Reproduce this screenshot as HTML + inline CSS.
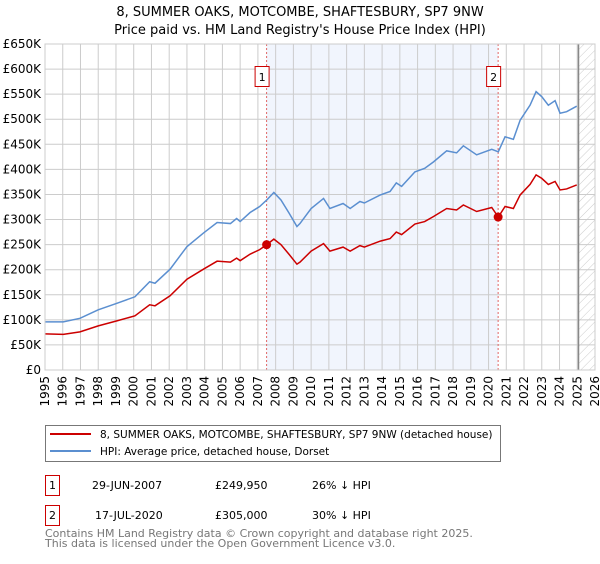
<!DOCTYPE html>
<html><head><meta charset="utf-8"><style>
body{margin:0;background:#fff;font-family:"DejaVu Sans","Liberation Sans",sans-serif;}
svg text{font-family:"DejaVu Sans","Liberation Sans",sans-serif;}
</style></head><body>
<svg id="chart" width="600" height="560" xmlns="http://www.w3.org/2000/svg">
<defs><pattern id="hatch" width="6" height="6" patternUnits="userSpaceOnUse" patternTransform="rotate(45)"><line x1="0" y1="0" x2="0" y2="6" stroke="#ccc" stroke-width="1"/></pattern></defs>
<text x="300" y="16" font-size="13" text-anchor="middle">8, SUMMER OAKS, MOTCOMBE, SHAFTESBURY, SP7 9NW</text>
<text x="300" y="34" font-size="13" text-anchor="middle">Price paid vs. HM Land Registry's House Price Index (HPI)</text>
<g id="plot"></g>
<rect x="45.5" y="425.5" width="455" height="36" fill="#fff" stroke="#777"/>
<line x1="50" y1="434" x2="91" y2="434" stroke="#cc0000" stroke-width="2"/>
<text x="100" y="438" font-size="10.5">8, SUMMER OAKS, MOTCOMBE, SHAFTESBURY, SP7 9NW (detached house)</text>
<line x1="50" y1="451" x2="91" y2="451" stroke="#5b8fd0" stroke-width="2"/>
<text x="100" y="455" font-size="10.5">HPI: Average price, detached house, Dorset</text>
<g font-size="11">
<rect x="45.5" y="475.5" width="14" height="20" fill="#fff" stroke="#cc0000"/>
<text x="52.5" y="489" text-anchor="middle">1</text>
<text x="92" y="489">29-JUN-2007</text>
<text x="215" y="489">£249,950</text>
<text x="312" y="489">26% ↓ HPI</text>
</g>
<g font-size="11">
<rect x="45.5" y="505.5" width="14" height="20" fill="#fff" stroke="#cc0000"/>
<text x="52.5" y="519" text-anchor="middle">2</text>
<text x="95" y="519">17-JUL-2020</text>
<text x="215" y="519">£305,000</text>
<text x="312" y="519">30% ↓ HPI</text>
</g>
<text x="45" y="537" font-size="11" fill="#777">Contains HM Land Registry data © Crown copyright and database right 2025.</text>
<text x="45" y="547" font-size="11" fill="#777">This data is licensed under the Open Government Licence v3.0.</text>
</svg>
<script>
const hpiYears=[1995.0,1996.03,1996.97,1998.0,1999.05,2000.07,2000.9,2001.2,2002.05,2003.0,2003.93,2004.7,2005.45,2005.8,2006.0,2006.56,2007.1,2007.5,2007.9,2008.3,2008.77,2009.2,2009.37,2010.0,2010.7,2011.06,2011.8,2012.2,2012.75,2013.0,2013.9,2014.45,2014.8,2015.1,2015.85,2016.4,2016.9,2017.64,2018.2,2018.58,2019.33,2020.18,2020.55,2020.93,2021.4,2021.78,2022.34,2022.68,2023.0,2023.37,2023.75,2024.03,2024.4,2024.97];
const hpiValues=[96,96,103,120,133,146,176,173,201,246,273,294,292,302,296,314,326,339,354,339,312,286,292,322,342,322,332,322,336,333,349,356,373,366,395,402,415,437,433,447,429,440,435,465,460,498,528,555,545,528,537,512,515,526];
const priceValues=[72,71,76,88,98,108,130,128,148,181,201,217,215,223,218,231,240,250,261,250,230,211,215,237,252,237,245,237,248,245,257,262,275,270,291,296,306,322,319,329,316,324,305,326,322,349,370,389,382,370,376,359,361,369];
const saleYears=[2007.49,2020.54];
const saleValues=[249.95,305];
const saleLabels=["1","2"];
const yTicks=[0,50,100,150,200,250,300,350,400,450,500,550,600,650];
const yTickLabels=["£0","£50K","£100K","£150K","£200K","£250K","£300K","£350K","£400K","£450K","£500K","£550K","£600K","£650K"];
const xTicks=[1995,1996,1997,1998,1999,2000,2001,2002,2003,2004,2005,2006,2007,2008,2009,2010,2011,2012,2013,2014,2015,2016,2017,2018,2019,2020,2021,2022,2023,2024,2025,2026];
const dataEnd=2025.07;
const X0=45,X1=595,Y0=370,Y1=44;
const xs=y=>X0+(y-1995)/(2026-1995)*(X1-X0);
const ys=v=>Y0-v/650*(Y0-Y1);
const NS="http://www.w3.org/2000/svg";
const g=document.getElementById('plot');
function mk(t,a){const e=document.createElementNS(NS,t);for(const k in a)e.setAttribute(k,a[k]);g.appendChild(e);return e;}
let r=mk('rect',{x:X0,y:Y1,width:X1-X0,height:Y0-Y1,fill:'#fff'});


r=mk('rect',{x:xs(saleYears[0]),y:Y1,width:xs(saleYears[1])-xs(saleYears[0]),height:Y0-Y1,fill:'#f1f5fd'});


r=mk('rect',{x:xs(dataEnd),y:Y1,width:X1-xs(dataEnd),height:Y0-Y1,fill:'url(#hatch)'});


yTicks.forEach((v,i)=>{
 const l=mk('line',{x1:X0,x2:X1,y1:ys(v),y2:ys(v),stroke:'#ccc','stroke-width':1});
 
 
 const t=mk('text',{x:X0-4,y:ys(v)+4,'font-size':12,'text-anchor':'end'});
 t.textContent=yTickLabels[i];
 
 
});
xTicks.forEach(v=>{
 const l=mk('line',{x1:xs(v),x2:xs(v),y1:Y1,y2:Y0,stroke:'#ccc','stroke-width':1});
 
 
 const t=mk('text',{x:0,y:0,'font-size':12,'text-anchor':'end',transform:`translate(${xs(v)+4},${Y0+6}) rotate(-90)`});
 t.textContent=v;
 
 
});
r=mk('line',{x1:xs(dataEnd),x2:xs(dataEnd),y1:Y1,y2:Y0,stroke:'#888','stroke-width':1.5});


saleYears.forEach((y,i)=>{
 const l=mk('line',{x1:xs(y),x2:xs(y),y1:Y1,y2:Y0,stroke:'#e06666','stroke-width':1,'stroke-dasharray':'2,2'});
 
 
});
let p=mk('polyline',{points:hpiYears.map((y,i)=>xs(y)+','+ys(hpiValues[i])).join(' '),fill:'none',stroke:'#5b8fd0','stroke-width':1.5});


p=mk('polyline',{points:hpiYears.map((y,i)=>xs(y)+','+ys(priceValues[i])).join(' '),fill:'none',stroke:'#cc0000','stroke-width':1.5});


saleYears.forEach((y,i)=>{
 const c=mk('circle',{cx:xs(y),cy:ys(saleValues[i]),r:4.5,fill:'#cc0000'});
 
 
 const b=mk('rect',{x:xs(y)-11.5,y:66.5,width:14,height:20,fill:'#fff',stroke:'#cc0000'});
 
 
 const t=mk('text',{x:xs(y)-4.5,y:81,'font-size':11,'text-anchor':'middle'});
 t.textContent=saleLabels[i];
 
 
});
r=mk('rect',{x:X0,y:Y1,width:X1-X0,height:Y0-Y1,fill:'none',stroke:'#ccc'});


</script>
</body></html>
